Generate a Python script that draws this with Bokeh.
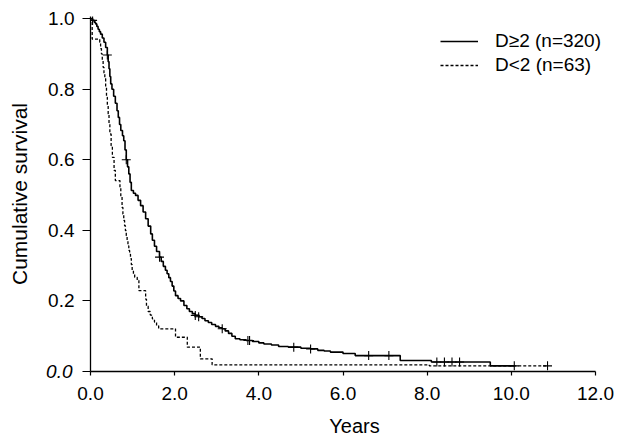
from bokeh.plotting import figure
from bokeh.models import (Range1d, FixedTicker, Legend, LegendItem, LinearAxis,
                          PrintfTickFormatter)
from bokeh.embed import file_html
from bokeh.resources import INLINE

# ---- data ----
series_names = ["D\u22652 (n=320)", "D<2 (n=63)"]

t_hi = [0.00, 0.05, 0.09, 0.12, 0.15, 0.18, 0.21, 0.24, 0.28, 0.32, 0.36, 0.40,
        0.42, 0.44, 0.46, 0.48, 0.51, 0.55, 0.59, 0.63, 0.66, 0.69, 0.72, 0.76,
        0.79, 0.82, 0.85, 0.88, 0.91, 0.94, 0.97, 1.02, 1.07, 1.13, 1.19, 1.25,
        1.31, 1.37, 1.43, 1.47, 1.52, 1.57, 1.64, 1.68, 1.73, 1.78, 1.82, 1.86,
        1.90, 1.94, 1.98, 2.02, 2.08, 2.14, 2.22, 2.29, 2.35, 2.42, 2.49, 2.57,
        2.65, 2.72, 2.80, 2.88, 2.97, 3.05, 3.13, 3.20, 3.28, 3.36, 3.44, 3.55,
        3.70, 3.85, 4.00, 4.12, 4.30, 4.47, 4.70, 5.00, 5.23, 5.40, 5.55, 5.70,
        6.00, 6.29, 7.36, 8.10, 9.50]
s_hi = [1.000, 0.995, 0.990, 0.985, 0.978, 0.970, 0.963, 0.956, 0.945, 0.933, 0.918, 0.897,
        0.878, 0.858, 0.836, 0.815, 0.800, 0.780, 0.760, 0.739, 0.720, 0.700, 0.683, 0.668,
        0.654, 0.628, 0.600, 0.580, 0.560, 0.536, 0.513, 0.505, 0.499, 0.485, 0.470, 0.452,
        0.433, 0.412, 0.390, 0.372, 0.355, 0.340, 0.324, 0.312, 0.298, 0.287, 0.277, 0.266,
        0.255, 0.242, 0.228, 0.215, 0.207, 0.200, 0.187, 0.178, 0.170, 0.164, 0.159, 0.155,
        0.150, 0.144, 0.139, 0.133, 0.128, 0.124, 0.121, 0.115, 0.108, 0.100, 0.093, 0.090,
        0.088, 0.085, 0.081, 0.078, 0.075, 0.071, 0.069, 0.066, 0.064, 0.060, 0.058, 0.055,
        0.051, 0.045, 0.031, 0.027, 0.016]
end_hi = 10.07
cens_hi = [0.05, 0.40, 0.85, 1.64, 2.49, 2.57, 3.13, 3.74, 3.78, 4.83, 5.23,
           6.61, 7.09, 8.23, 8.41, 8.59, 8.77, 10.07]

t_lo = [0.00, 0.04, 0.22, 0.24, 0.26, 0.28, 0.30, 0.32, 0.34, 0.36, 0.38, 0.40,
        0.42, 0.44, 0.46, 0.49, 0.52, 0.56, 0.59, 0.70, 0.72, 0.75, 0.77, 0.79,
        0.81, 0.83, 0.85, 0.87, 0.89, 0.91, 0.93, 0.95, 0.97, 0.99, 1.02, 1.05,
        1.11, 1.15, 1.31, 1.33, 1.37, 1.42, 1.47, 1.52, 1.57, 1.62, 2.02, 2.30,
        2.61, 2.89, 8.05]
s_lo = [1.000, 0.942, 0.933, 0.915, 0.900, 0.880, 0.862, 0.846, 0.830, 0.805, 0.777, 0.754,
        0.730, 0.700, 0.673, 0.640, 0.607, 0.570, 0.541, 0.522, 0.495, 0.465, 0.446, 0.428,
        0.413, 0.399, 0.385, 0.370, 0.356, 0.343, 0.332, 0.320, 0.303, 0.286, 0.277, 0.267,
        0.258, 0.229, 0.205, 0.185, 0.170, 0.160, 0.149, 0.140, 0.130, 0.121, 0.097, 0.069,
        0.036, 0.019, 0.016]
end_lo = 10.86
cens_lo = [10.86]

x_ticks = [0, 2, 4, 6, 8, 10, 12]
y_ticks = [0, 0.2, 0.4, 0.6, 0.8, 1.0]


def surv_at(t, times, survs):
    v = survs[0]
    for ti, si in zip(times, survs):
        if ti <= t:
            v = si
    return v


FONT = "Liberation Sans"
TICK_FS = "19px"

# frame: x=0 at 90px, x=12 at 595px; frame extends to the right edge (axis bounded to 0..12)
p = figure(width=618, height=439, output_backend="svg", toolbar_location=None,
           x_range=Range1d(0, 12 * 528 / 505), y_range=Range1d(0, 1.006),
           min_border_left=90, min_border_right=0, min_border_top=16,
           min_border_bottom=68)
p.outline_line_color = None
p.grid.visible = False
p.background_fill_color = "white"

r_hi = p.step(x=t_hi + [end_hi], y=s_hi + [s_hi[-1]], mode="after",
              line_color="black", line_width=1.6)
r_lo = p.step(x=t_lo + [end_lo], y=s_lo + [s_lo[-1]], mode="after",
              line_color="black", line_width=1.3, line_dash="3 2")

p.scatter(x=cens_hi, y=[surv_at(c, t_hi, s_hi) for c in cens_hi], marker="cross",
          size=9, line_color="black", line_width=1.1)
p.scatter(x=cens_lo, y=[surv_at(c, t_lo, s_lo) for c in cens_lo], marker="cross",
          size=9, line_color="black", line_width=1.1)


def style(ax):
    ax.axis_line_color = "black"
    ax.axis_line_width = 1.3
    ax.major_tick_line_color = "black"
    ax.major_tick_line_width = 1.2
    ax.major_tick_in = 0
    ax.minor_tick_line_color = None
    ax.major_label_text_font = FONT
    ax.major_label_text_font_size = TICK_FS
    ax.major_label_text_color = "black"
    ax.axis_label_text_font = FONT
    ax.axis_label_text_font_style = "normal"
    ax.axis_label_text_color = "black"
    ax.formatter = PrintfTickFormatter(format="%.1f")


xa = p.xaxis[0]
ya = p.yaxis[0]
style(xa)
style(ya)

xa.ticker = FixedTicker(ticks=x_ticks)
xa.bounds = (0, 12)
xa.major_tick_out = 4
xa.major_label_standoff = 11
xa.axis_label = "Years"
xa.axis_label_text_font_size = "20px"
xa.axis_label_standoff = 12

ya.ticker = FixedTicker(ticks=y_ticks)
ya.major_tick_out = 8
ya.major_label_standoff = 8
ya.major_label_overrides = {0: " "}

# outer axis: only the italic "0.0" label (pulled back into the label column) and the title
yb = LinearAxis(ticker=FixedTicker(ticks=[0]))
style(yb)
yb.axis_line_color = None
yb.major_tick_line_color = None
yb.major_tick_out = 0
yb.major_label_standoff = -27
yb.major_label_text_font_style = "italic"
yb.axis_label = "Cumulative survival"
yb.axis_label_text_font_size = "21px"
yb.axis_label_standoff = 12
p.add_layout(yb, "left")

legend = Legend(items=[LegendItem(label=series_names[0], renderers=[r_hi]),
                       LegendItem(label=series_names[1], renderers=[r_lo])],
                location=(350, 295), orientation="vertical")
legend.border_line_alpha = 0
legend.background_fill_alpha = 0
legend.padding = 0
legend.margin = 0
legend.spacing = 2
legend.glyph_width = 38
legend.label_height = 20
legend.glyph_height = 20
legend.label_standoff = 17
legend.label_text_font = FONT
legend.label_text_font_size = TICK_FS
legend.label_text_color = "black"
p.add_layout(legend)

open("out.html", "w").write(file_html(p, INLINE))
